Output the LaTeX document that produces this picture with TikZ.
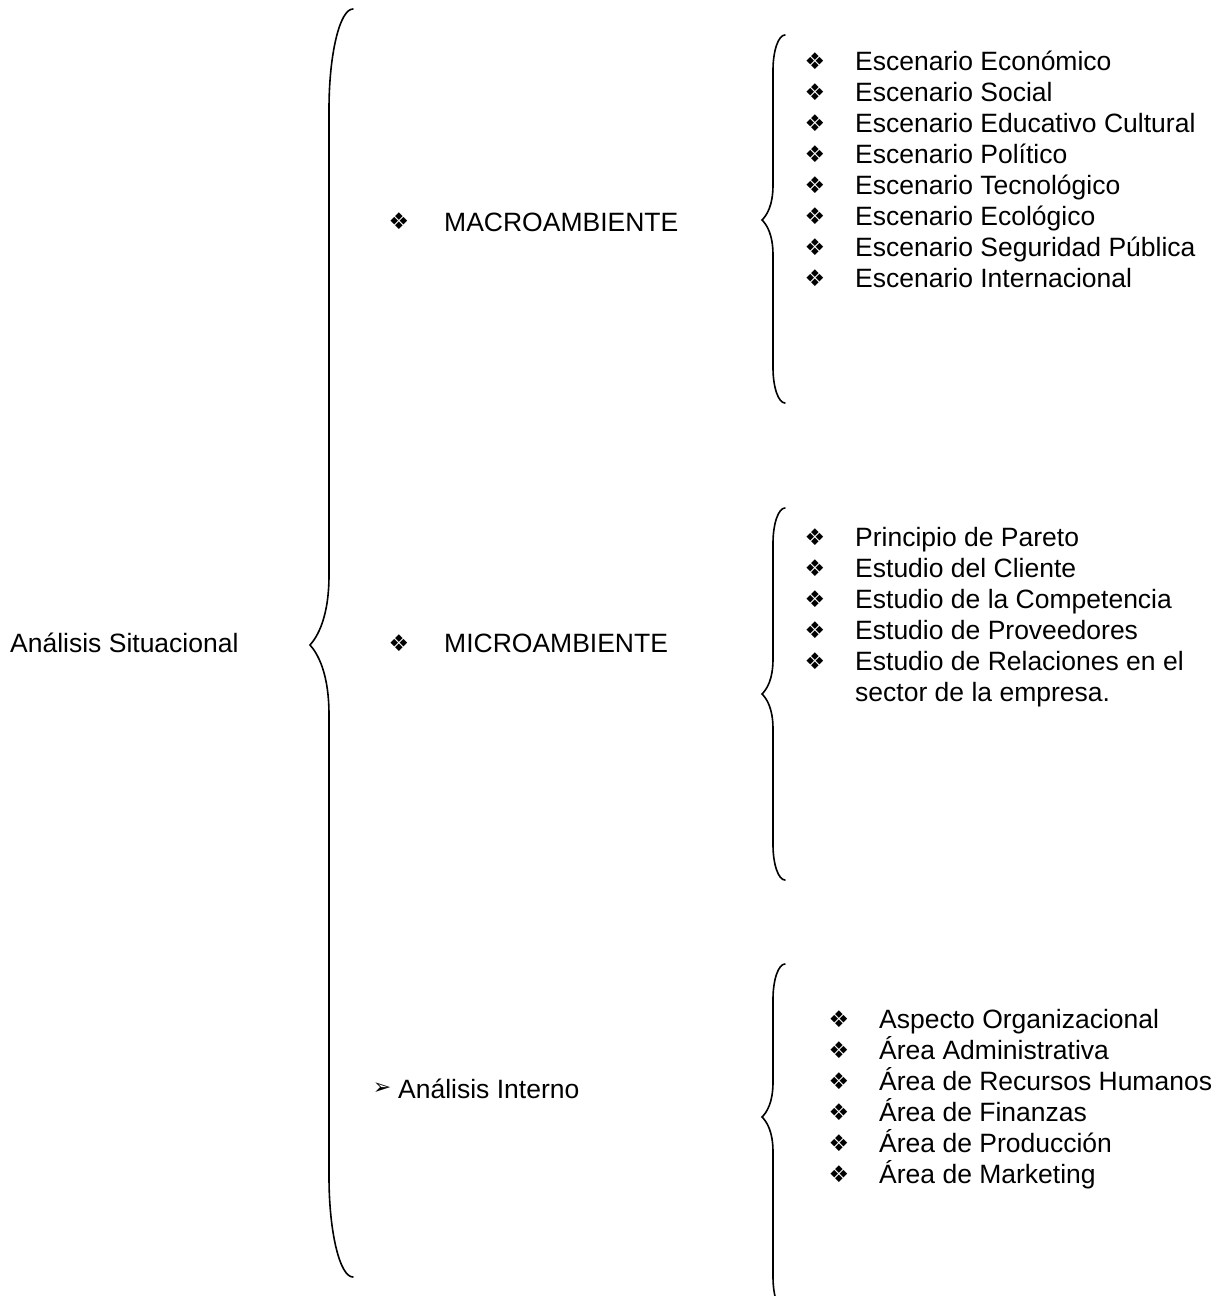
\documentclass[tikz,border=0pt]{standalone}
\usepackage{fontspec}
\setmainfont{Liberation Sans}
\newfontfamily\symfont{DejaVu Sans}
\newcommand{\dia}{{\symfont\fontsize{23}{23}\selectfont ❖}}
\newcommand{\arr}{{\symfont\fontsize{22}{22}\selectfont ➢}}
\newcommand{\mybrace}[8]{%
  \draw[brc] (#1,#4) .. controls ({#2+0.45*(#1-#2)},#4) and (#2,{#4+0.45*#7}) .. (#2,{#4+#7})
   -- (#2,{#5-#8}) .. controls (#2,{#5-0.4*#8}) and ({#3+0.4*(#2-#3)},{#5-0.12*#8}) .. (#3,#5)
   .. controls ({#3+0.4*(#2-#3)},{#5+0.12*#8}) and (#2,{#5+0.4*#8}) .. (#2,{#5+#8})
   -- (#2,{#6-#7}) .. controls (#2,{#6-0.45*#7}) and ({#2+0.45*(#1-#2)},#6) .. (#1,#6);}
\tikzset{
  txt/.style={anchor=base west, inner sep=0pt, font=\fontsize{26.5}{31}\selectfont},
  bul/.style={anchor=center, inner sep=0pt},
  brc/.style={line width=1.6pt, line cap=round},
}
\begin{document}
\begin{tikzpicture}[x=1pt,y=-1pt]
\useasboundingbox (0,0) rectangle (1230,1296);
\fill[white] (0,0) rectangle (1230,1296);
\clip (0,0) rectangle (1230,1296);
% root
\node[txt] (sit) at (10,652) {Análisis Situacional};
% main brace
\mybrace{353}{329}{310}{9}{645}{1277}{100}{70}
% second level
\node[bul] (bmac) at (399,221) {\dia};
\node[txt] (mac) at (444,231) {MACROAMBIENTE};
\node[bul] (bmic) at (399,643) {\dia};
\node[txt] (mic) at (444,652) {MICROAMBIENTE};
\node[bul] (bint) at (382,1089) {\arr};
\node[txt] (int) at (398,1098) {Análisis Interno};
% sub braces
\mybrace{785}{773}{762}{35}{220}{403}{35}{35}
\mybrace{785}{773}{762}{508}{694}{880}{35}{35}
\mybrace{785}{773}{762}{964}{1117}{1312}{35}{35}
% macro items
\foreach \t [count=\i from 0] in {Escenario Económico,Escenario Social,Escenario Educativo Cultural,Escenario Político,Escenario Tecnológico,Escenario Ecológico,Escenario Seguridad Pública,Escenario Internacional}{
  \node[bul] (ma\i b) at (815,{61+31*\i}) {\dia};
  \node[txt] (ma\i) at (855,{70.5+31*\i}) {\t};
}
% micro items
\foreach \t [count=\i from 0] in {Principio de Pareto,Estudio del Cliente,Estudio de la Competencia,Estudio de Proveedores,Estudio de Relaciones en el}{
  \node[bul] (mi\i b) at (815,{537+31*\i}) {\dia};
  \node[txt] (mi\i) at (855,{546.5+31*\i}) {\t};
}
\node[txt] (mi5) at (855,{546.5+31*5}) {sector de la empresa.};
% interno items
\foreach \t [count=\i from 0] in {Aspecto Organizacional,Área Administrativa,Área de Recursos Humanos,Área de Finanzas,Área de Producción,Área de Marketing}{
  \node[bul] (in\i b) at (839,{1019+31*\i}) {\dia};
  \node[txt] (in\i) at (879,{1028.5+31*\i}) {\t};
}
\end{tikzpicture}
\end{document}
